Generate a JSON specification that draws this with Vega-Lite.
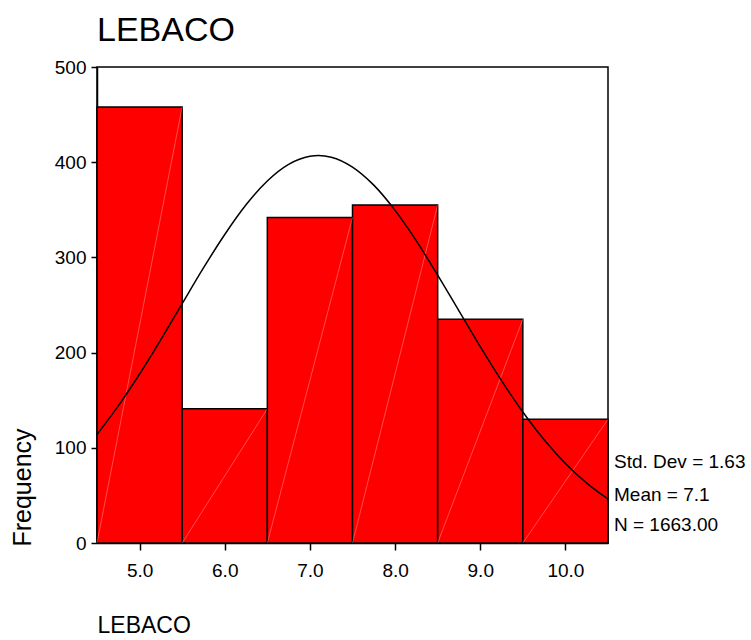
{
  "$schema": "https://vega.github.io/schema/vega-lite/v6.json",
  "width": 511,
  "height": 476,
  "autosize": {"type": "none"},
  "padding": {"left": 97, "top": 67, "right": 143, "bottom": 97},
  "background": "white",
  "config": {
    "font": "Liberation Sans",
    "view": {"stroke": "black", "strokeWidth": 1.5},
    "axis": {"grid": false, "domainColor": "black", "tickColor": "black", "labelColor": "black", "titleColor": "black", "labelFont": "Liberation Sans", "titleFont": "Liberation Sans", "titleFontWeight": "normal"}
  },
  "title": {"text": "LEBACO", "anchor": "start", "frame": "group", "fontSize": 34, "font": "Liberation Sans", "fontWeight": "normal", "color": "black", "offset": 10},
  "datasets": {
    "bins": [
      {"bin_start": 4.5, "bin_end": 5.5, "count": 458},
      {"bin_start": 5.5, "bin_end": 6.5, "count": 141},
      {"bin_start": 6.5, "bin_end": 7.5, "count": 342},
      {"bin_start": 7.5, "bin_end": 8.5, "count": 355},
      {"bin_start": 8.5, "bin_end": 9.5, "count": 235},
      {"bin_start": 9.5, "bin_end": 10.5, "count": 130}
    ],
    "curve": [
      {"x": 4.5, "y": 114.0}, {"x": 4.75, "y": 144.0}, {"x": 5.0, "y": 177.5}, {"x": 5.25, "y": 213.7},
      {"x": 5.5, "y": 251.4}, {"x": 5.75, "y": 288.9}, {"x": 6.0, "y": 324.1}, {"x": 6.25, "y": 355.3},
      {"x": 6.5, "y": 380.3}, {"x": 6.75, "y": 397.7}, {"x": 7.0, "y": 406.2}, {"x": 7.1, "y": 407.0},
      {"x": 7.25, "y": 405.3}, {"x": 7.5, "y": 394.9}, {"x": 7.75, "y": 375.9}, {"x": 8.0, "y": 349.4},
      {"x": 8.25, "y": 317.3}, {"x": 8.5, "y": 281.4}, {"x": 8.75, "y": 243.8}, {"x": 9.0, "y": 206.3},
      {"x": 9.25, "y": 170.5}, {"x": 9.5, "y": 137.6}, {"x": 9.75, "y": 108.5}, {"x": 10.0, "y": 83.6},
      {"x": 10.25, "y": 62.9}, {"x": 10.5, "y": 46.2}
    ],
    "stats": [
      {"label": "Std. Dev = 1.63", "x": 10.5, "pos": 84.6},
      {"label": "Mean = 7.1", "x": 10.5, "pos": 50.4},
      {"label": "N = 1663.00", "x": 10.5, "pos": 19.4}
    ]
  },
  "layer": [
    {
      "data": {"name": "bins"},
      "mark": {"type": "rect", "fill": "#FF0000", "stroke": "black", "strokeWidth": 1.5},
      "encoding": {
        "x": {"field": "bin_start", "type": "quantitative",
              "scale": {"domain": [4.5, 10.5], "nice": false, "zero": false},
              "axis": {"values": [5, 6, 7, 8, 9, 10], "format": ".1f", "labelFontSize": 19, "tickSize": 7, "labelPadding": 11, "domainWidth": 1.5, "tickWidth": 1.5,
                       "title": "LEBACO", "titleFontSize": 23, "titleX": 0, "titleY": 89, "titleAlign": "left", "titleBaseline": "alphabetic", "titleAnchor": "start"}},
        "x2": {"field": "bin_end"},
        "y": {"field": "count", "type": "quantitative",
              "scale": {"domain": [0, 500], "nice": false},
              "axis": {"values": [0, 100, 200, 300, 400, 500], "labelFontSize": 19, "tickSize": 6, "labelPadding": 5, "domainWidth": 1.5, "tickWidth": 1.5,
                       "title": "Frequency", "titleFontSize": 25, "titleX": -75, "titleY": 420, "titleAngle": -90, "titleAlign": "center", "titleBaseline": "middle"}},
        "y2": {"datum": 0}
      }
    },
    {
      "data": {"name": "bins"},
      "mark": {"type": "rule", "color": "white", "strokeWidth": 0.6, "opacity": 0.5},
      "encoding": {
        "x": {"field": "bin_end", "type": "quantitative"},
        "x2": {"field": "bin_start"},
        "y": {"field": "count", "type": "quantitative"},
        "y2": {"datum": 0}
      }
    },
    {
      "data": {"name": "curve"},
      "mark": {"type": "line", "color": "black", "strokeWidth": 1.5, "interpolate": "monotone"},
      "encoding": {
        "x": {"field": "x", "type": "quantitative"},
        "y": {"field": "y", "type": "quantitative"}
      }
    },
    {
      "data": {"name": "stats"},
      "mark": {"type": "text", "align": "left", "baseline": "middle", "dx": 6, "fontSize": 19, "font": "Liberation Sans", "color": "black", "clip": false},
      "encoding": {
        "x": {"field": "x", "type": "quantitative"},
        "y": {"field": "pos", "type": "quantitative"},
        "text": {"field": "label"}
      }
    }
  ]
}
